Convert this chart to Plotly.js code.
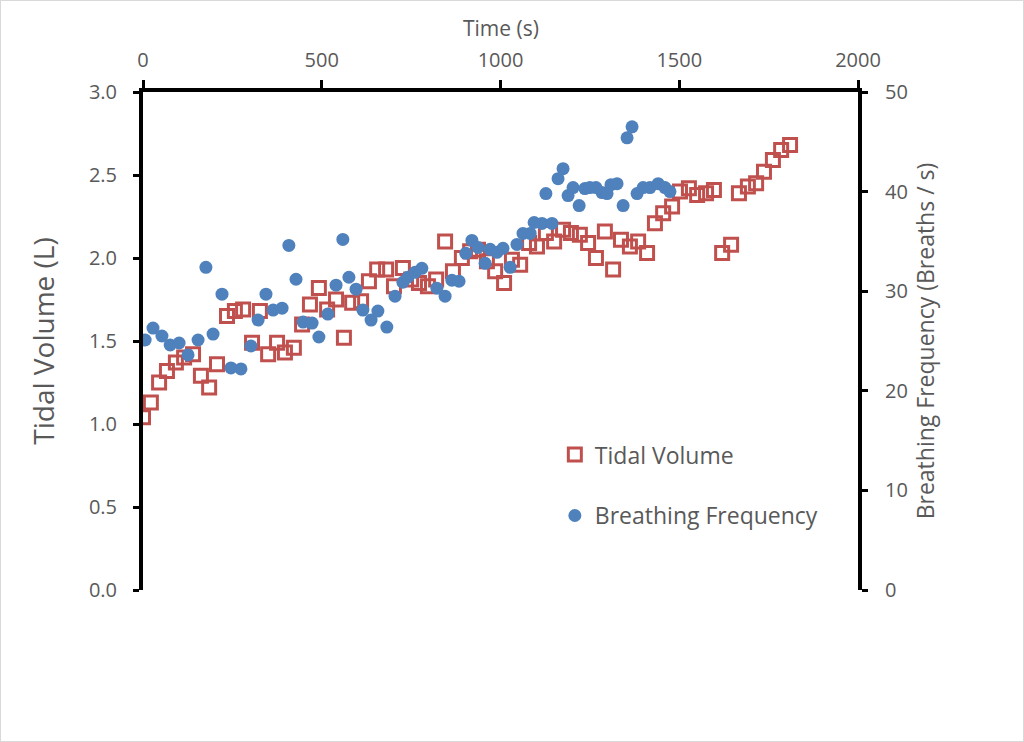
<!DOCTYPE html>
<html><head><meta charset="utf-8">
<script src="https://cdn.plot.ly/plotly-3.0.1.min.js"></script>
<style>html,body{margin:0;padding:0;background:#fff}#c{width:1022px;height:740px;border:1px solid #d9d9d9}</style>
</head><body><div id="c"></div>
<script>
const tvTime = [0,22,45,67,92,115,140,162,185,207,235,257,280,305,327,350,375,397,422,445,467,492,515,540,562,585,610,632,655,680,702,727,750,772,797,820,845,867,892,915,937,962,985,1010,1032,1055,1080,1102,1127,1150,1175,1197,1222,1245,1267,1292,1315,1337,1362,1385,1410,1432,1455,1480,1502,1527,1550,1575,1597,1620,1645,1667,1692,1715,1737,1762,1785,1810];
const tidalVolume = [1.04,1.13,1.25,1.32,1.37,1.40,1.42,1.29,1.22,1.36,1.65,1.68,1.69,1.49,1.68,1.42,1.49,1.43,1.46,1.60,1.72,1.82,1.69,1.75,1.52,1.73,1.74,1.86,1.93,1.93,1.83,1.94,1.87,1.85,1.83,1.87,2.10,1.92,2.00,2.04,2.05,1.98,1.92,1.85,1.99,1.96,2.09,2.07,2.15,2.10,2.17,2.15,2.14,2.09,2.00,2.16,1.93,2.11,2.07,2.10,2.03,2.21,2.27,2.31,2.40,2.42,2.38,2.39,2.41,2.03,2.08,2.39,2.43,2.45,2.52,2.59,2.65,2.68];
const bfTime = [6,28,53,76,101,126,154,176,196,221,246,274,302,322,344,364,389,408,428,448,473,492,517,540,559,576,596,615,638,657,682,705,727,741,761,780,822,845,864,884,903,920,937,957,971,990,1007,1027,1046,1063,1083,1094,1116,1127,1144,1161,1175,1189,1203,1220,1236,1250,1267,1284,1298,1309,1326,1343,1354,1368,1382,1399,1418,1441,1460,1474];
const breathingFreq = [25.1,26.3,25.5,24.6,24.8,23.6,25.1,32.4,25.7,29.7,22.3,22.2,24.5,27.1,29.7,28.1,28.3,34.6,31.2,26.9,26.8,25.4,27.7,30.6,35.2,31.4,30.2,28.1,27.1,28.0,26.4,29.5,30.9,31.4,31.9,32.3,30.3,29.5,31.1,31.0,33.8,35.1,34.4,32.8,34.2,33.9,34.3,32.4,34.7,35.8,35.8,36.9,36.8,39.8,36.8,41.3,42.3,39.6,40.4,38.6,40.3,40.4,40.4,39.9,39.8,40.7,40.8,38.6,45.4,46.5,39.8,40.4,40.4,40.8,40.4,40.0];
const xTitle = 'Time (s)';

const grey = '#595959';
const fontFam = '"Open Sans", "Noto Sans", sans-serif';
const traces = [
  {x: tvTime, y: tidalVolume, name: 'Tidal Volume', type: 'scatter', mode: 'markers', legendgroup: 'a',
   marker: {symbol: 'square-open', size: 13, color: '#C0504D', line: {width: 3, color: '#C0504D'}}},
  {x: bfTime, y: breathingFreq, name: 'Breathing Frequency', type: 'scatter', mode: 'markers', yaxis: 'y2', legendgroup: 'b',
   marker: {symbol: 'circle', size: 13, color: '#4F81BD'}}
];
const layout = {
  width: 1022, height: 740,
  margin: {l: 142, r: 165, t: 91, b: 151},
  paper_bgcolor: '#fff', plot_bgcolor: '#fff',
  font: {family: fontFam, color: grey, size: 20},
  showlegend: true,
  legend: {x: 0.576, y: 0.315, xanchor: 'left', yanchor: 'top', font: {size: 23, color: grey}, tracegroupgap: 28, bgcolor: 'rgba(0,0,0,0)'},
  annotations: [{text: xTitle, xref: 'paper', yref: 'paper', x: 0.5, y: 1.128, xanchor: 'center', yanchor: 'middle',
    showarrow: false, font: {size: 21, color: grey}}],
  xaxis: {side: 'top', range: [0, 2000], dtick: 500, tick0: 0, showline: true, linewidth: 4, linecolor: '#000',
    ticks: 'outside', ticklen: 8, tickwidth: 3, tickcolor: '#000', showgrid: false, zeroline: false,
    ticklabelstandoff: 5,
    tickfont: {size: 20, color: grey}},
  yaxis: {range: [0, 3], dtick: 0.5, tickformat: '.1f', showline: true, linewidth: 4, linecolor: '#000',
    ticks: 'outside', ticklen: 6, tickwidth: 3, tickcolor: '#000', showgrid: false, zeroline: false,
    ticklabelstandoff: 12,
    tickfont: {size: 20, color: grey}, title: {text: 'Tidal Volume (L)', font: {size: 28, color: grey}, standoff: 27}},
  yaxis2: {overlaying: 'y', side: 'right', range: [0, 50], dtick: 10, showline: true, linewidth: 4, linecolor: '#000',
    ticks: 'outside', ticklen: 6, tickwidth: 3, tickcolor: '#000', showgrid: false, zeroline: false,
    ticklabelstandoff: 13,
    tickfont: {size: 20, color: grey}, title: {text: 'Breathing Frequency (Breaths / s)', font: {size: 23, color: grey}, standoff: 12}}
};
Plotly.newPlot('c', traces, layout, {displayModeBar: false, staticPlot: true});
</script></body></html>
